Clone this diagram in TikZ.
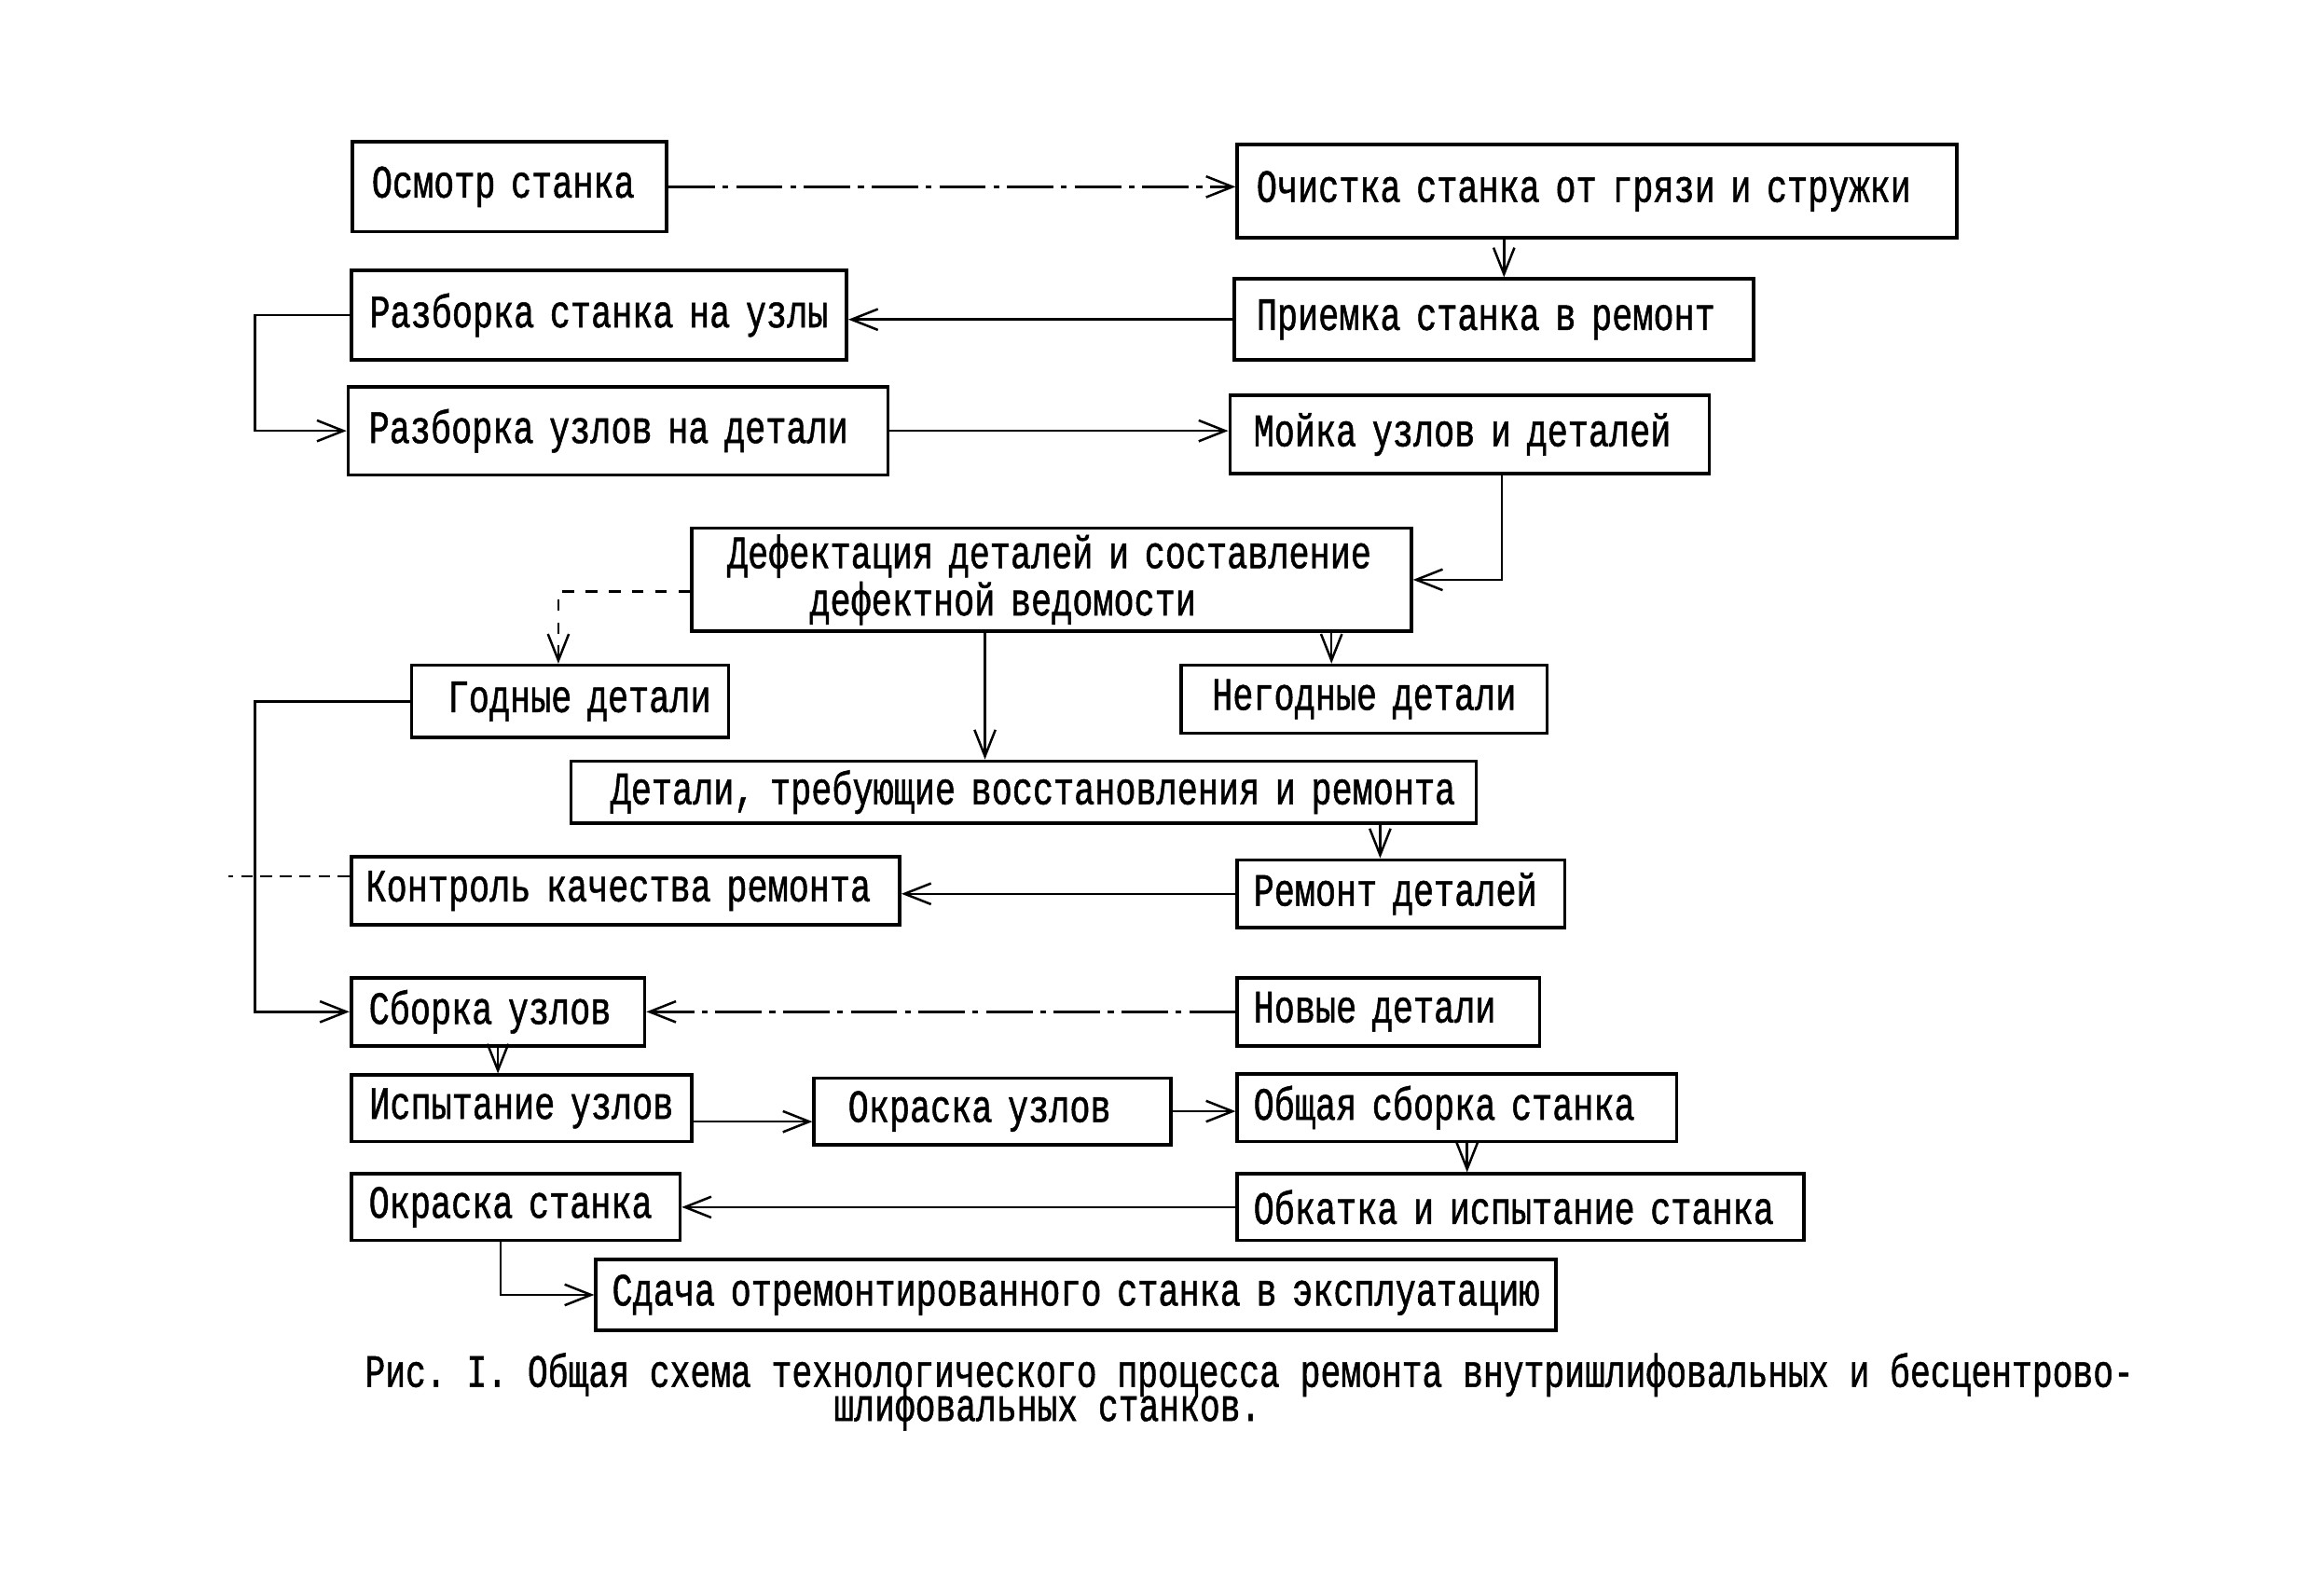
\documentclass[tikz,border=0pt]{standalone}
\usepackage{fontspec}
\usepackage{tikz}
\usetikzlibrary{arrows.meta, positioning, calc}
\newfontfamily\typewr{Liberation Mono}[FakeStretch=0.74, FakeBold=1]
\newfontfamily\captwr{Liberation Mono}[FakeStretch=0.73, FakeBold=1]
\newcommand{\pxl}{0.013392cm}
\setlength{\lineskiplimit}{-\maxdimen}

\begin{document}
\begin{tikzpicture}[
		x=0.013392cm, y=-0.013392cm,
		box/.style={draw, line width=0.9pt, anchor=north west, inner ysep=0pt, font=\typewr\fontsize{12}{8.6}\selectfont,
			execute at begin node={\setlength{\baselineskip}{8.6pt}}},
		capt/.style={anchor=north west, inner sep=0pt, align=left, font=\captwr\fontsize{12}{8.8}\selectfont\frenchspacing},
		arrow/.style={-{Straight Barb[length=2.4mm, width=1.9mm]}, line width=0.6pt},
		line/.style={line width=0.6pt},
		dashdot/.style={dash pattern=on 12pt off 2pt on 1.5pt off 2pt}
	]
	\useasboundingbox (0,0) rectangle (1568,1082);

	% Boxes
	\node[box, minimum height=61*\pxl, inner xsep=13*\pxl, text width=187*\pxl, align=left] (osmotr) at (238,95) {Осмотр станка};
	\node[box, minimum height=63*\pxl, inner xsep=13*\pxl, text width=462*\pxl, align=left] (ochistka) at (838,97) {Очистка станка от грязи и стружки};
	\node[box, minimum height=61*\pxl, inner xsep=8*\pxl, text width=320*\pxl, align=center] (razbst) at (237,182) {Разборка станка на узлы};
	\node[box, minimum height=55*\pxl, inner xsep=15*\pxl, text width=322*\pxl, align=left] (priemka) at (836,188) {Приемка станка в ремонт};
	\node[box, minimum height=60*\pxl, inner xsep=14*\pxl, text width=338*\pxl, align=left] (razbuz) at (235,261) {Разборка узлов на детали};
	\node[box, minimum height=53*\pxl, inner xsep=16*\pxl, text width=293*\pxl, align=left] (moika) at (833,267) {Мойка узлов и деталей};
	\node[box, minimum height=70*\pxl, inner xsep=24*\pxl, text width=440*\pxl, align=left] (defekt) at (468,357) {Дефектация деталей и составление\\\hspace*{21.3pt}дефектной ведомости};
	\node[box, minimum height=49*\pxl, inner xsep=12*\pxl, text width=191*\pxl, align=right] (godnye) at (278,450) {Годные детали};
	\node[box, minimum height=46*\pxl, inner xsep=15*\pxl, text width=218*\pxl, align=center] (negodnye) at (800,450) {Негодные детали};
	\node[box, minimum height=42*\pxl, inner xsep=14*\pxl, text width=586*\pxl, align=right] (trebuyu) at (386,515) {Детали, требующие восстановления и ремонта};
	\node[box, minimum height=46*\pxl, inner xsep=10*\pxl, text width=352*\pxl, align=left] (kontrol) at (237,580) {Контроль качества ремонта};
	\node[box, minimum height=46*\pxl, inner xsep=11*\pxl, text width=200*\pxl, align=left] (remont) at (838,582) {Ремонт деталей};
	\node[box, minimum height=46*\pxl, inner xsep=12*\pxl, text width=175*\pxl, align=left] (sborka) at (237,662) {Сборка узлов};
	\node[box, minimum height=46*\pxl, inner xsep=11*\pxl, text width=183*\pxl, align=left] (novye) at (838,662) {Новые детали};
	\node[box, minimum height=45*\pxl, inner xsep=6*\pxl, text width=219*\pxl, align=center] (ispyt) at (237,728) {Испытание узлов};
	\node[box, minimum height=45*\pxl, inner xsep=23*\pxl, text width=196*\pxl, align=left] (okruz) at (551,730) {Окраска узлов};
	\node[box, minimum height=46*\pxl, inner xsep=11*\pxl, text width=276*\pxl, align=left] (obsh) at (838,727) {Общая сборка станка};
	\node[box, minimum height=45*\pxl, inner xsep=12*\pxl, text width=199*\pxl, align=left] (okrst) at (237,795) {Окраска станка};
	\node[box, minimum height=45*\pxl, inner xsep=11*\pxl, text width=362*\pxl, align=left] (obkatka) at (838,795) {Обкатка и испытание станка};
	\node[box, minimum height=48*\pxl, inner xsep=6*\pxl, text width=639*\pxl, align=center] (sdacha) at (403,853) {Сдача отремонтированного станка в эксплуатацию};

	% Caption
	\node[capt] (caption) at (247,917) {Рис. I. Общая схема технологического процесса ремонта внутришлифовальных и бесцентрово-\\\hspace*{4.26cm}шлифовальных станков.};

	% Connectors
	\draw[arrow, dashdot] (osmotr.east) -- (osmotr.east -| ochistka.west);
	\coordinate (och) at ($(ochistka.south west)+(182,0)$);
	\draw[arrow] (och) -- (och |- priemka.north);
	\draw[arrow] (priemka.west) -- (priemka.west -| razbst.east);
	\draw[arrow] (razbst.west) -- ++(-64,0) |- (razbuz.west);
	\draw[arrow] (razbuz.east) -- (razbuz.east -| moika.west);
	\draw[arrow] ($(moika.south)+(22,0)$) |- (defekt.east);
	\draw[arrow, dashed] ($(defekt.west)+(0,8)$) -| ($(godnye.north)+(-8,0)$);
	\coordinate (def1) at ($(defekt.south west)+(200,0)$);
	\draw[arrow] (def1) -- (def1 |- trebuyu.north);
	\coordinate (def2) at ($(defekt.south west)+(435,0)$);
	\draw[arrow] (def2) -- (def2 |- negodnye.north);
	\draw[arrow] (godnye.west) -- ++(-105,0) |- (sborka.west);
	\draw[line, densely dashed] ($(kontrol.west)+(0,-10)$) -- ++(-82,0);
	\coordinate (treb) at ($(trebuyu.south west)+(550,0)$);
	\draw[arrow] (treb) -- (treb |- remont.north);
	\draw[arrow] (remont.west) -- (remont.west -| kontrol.east);
	\draw[arrow, dashdot] (novye.west) -- (novye.west -| sborka.east);
	\draw[arrow] (sborka.south) -- (sborka.south |- ispyt.north);
	\coordinate (isp) at ($(ispyt.east)+(0,9)$);
	\draw[arrow] (isp) -- (isp -| okruz.west);
	\draw[arrow] (okruz.east) -- (okruz.east -| obsh.west);
	\coordinate (obs) at ($(obsh.south west)+(157,0)$);
	\draw[arrow] (obs) -- (obs |- obkatka.north);
	\draw[arrow] (obkatka.west) -- (obkatka.west -| okrst.east);
	\draw[arrow] ($(okrst.south)+(-10,0)$) |- (sdacha.west);

\end{tikzpicture}
\end{document}
